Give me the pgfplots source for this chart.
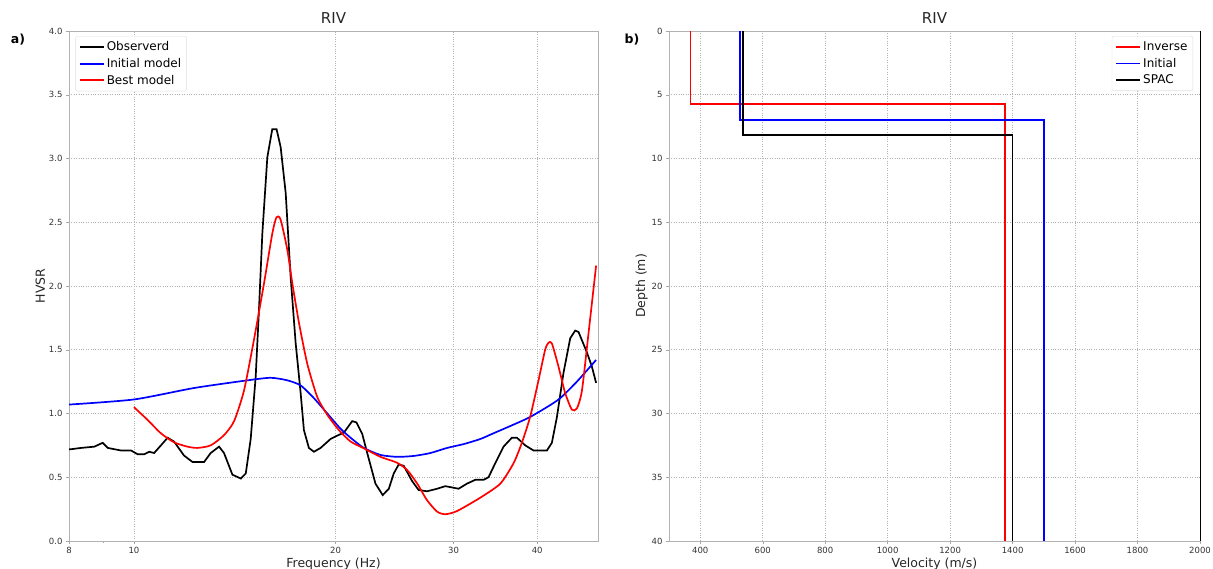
\documentclass[border=0pt]{standalone}
\usepackage{pgfplots}
\pgfplotsset{compat=1.18}
\usepackage{fontspec}
\setmainfont{DejaVu Sans}
\begin{document}
\begin{tikzpicture}
\useasboundingbox (0pt,0pt) rectangle (1213pt,569pt);
\pgfplotsset{
  common/.style={
    scale only axis, height=510pt,
    axis line style={gray!60},
    tick style={gray!70, thin},
    tick align=outside, xtick pos=left, ytick pos=left,
    major tick length=3pt, minor tick length=2pt,
    tick label style={font=\fontsize{8.5}{9}\selectfont, text=black!80},
    label style={font=\fontsize{12.5}{14}\selectfont, text=black!85},
    title style={font=\fontsize{15}{17}\selectfont, text=black!85, yshift=-2pt},
    xmajorgrids, ymajorgrids,
    major grid style={dotted, gray!60, line width=0.6pt},
    /pgf/number format/assume math mode=true,
    /pgf/number format/1000 sep={},
    legend cell align=left,
    legend style={font=\fontsize{12}{14}\selectfont, draw=gray!25, rounded corners=2pt, row sep=2pt, inner sep=3.5pt},
    legend image code/.code={\draw[#1] (0pt,0pt) -- (24pt,0pt);},
  }
}
\begin{axis}[common, at={(69pt,28pt)}, anchor=south west, width=529pt,
  xmode=log, xmin=8, xmax=49.3, ymin=0, ymax=4,
  xtick={8,10,20,30,40}, xticklabels={8,10,20,30,40}, minor xtick={9},
  ytick={0,0.5,...,4},
  yticklabel style={/pgf/number format/.cd, fixed, fixed zerofill, precision=1},
  xlabel={Frequency (Hz)}, ylabel={HVSR}, title={RIV},
  xlabel style={yshift=3pt}, ylabel style={yshift=-3pt},
  legend style={at={(0.012,0.99)}, anchor=north west}]
\addplot[black, line width=1.7pt] coordinates {(8.0,0.72)(8.06,0.72)(8.34,0.73)(8.73,0.74)(8.98,0.77)(9.14,0.73)(9.56,0.71)(9.90,0.71)(10.13,0.68)(10.36,0.68)(10.54,0.70)(10.72,0.69)(11.23,0.81)(11.48,0.78)(11.88,0.67)(12.23,0.62)(12.73,0.62)(13.02,0.69)(13.40,0.74)(13.63,0.69)(14.03,0.52)(14.44,0.49)(14.69,0.53)(14.94,0.80)(15.20,1.29)(15.37,1.81)(15.55,2.41)(15.82,3.01)(16.09,3.23)(16.33,3.23)(16.56,3.09)(16.85,2.73)(17.14,2.07)(17.44,1.55)(17.74,1.16)(17.94,0.87)(18.25,0.73)(18.57,0.70)(19.00,0.73)(19.66,0.80)(20.00,0.82)(20.58,0.85)(21.18,0.94)(21.49,0.93)(21.92,0.84)(22.30,0.69)(22.94,0.45)(23.52,0.36)(24.02,0.41)(24.43,0.53)(24.85,0.60)(25.28,0.59)(26.02,0.47)(26.61,0.40)(27.39,0.39)(28.36,0.41)(29.17,0.43)(30.53,0.41)(31.43,0.45)(32.34,0.48)(33.27,0.48)(33.84,0.50)(34.63,0.61)(35.63,0.74)(36.67,0.81)(37.31,0.81)(38.39,0.75)(39.50,0.71)(41.36,0.71)(42.07,0.77)(42.80,0.97)(43.79,1.32)(44.81,1.59)(45.58,1.65)(46.10,1.64)(47.45,1.48)(48.26,1.37)(48.98,1.24)};
\addlegendentry{Observerd}
\addplot[blue, line width=1.7pt, smooth, tension=0.4] coordinates {(8.0,1.07)(10.0,1.11)(12.3,1.20)(14.77,1.26)(16.0,1.28)(16.95,1.26)(17.74,1.22)(18.57,1.12)(19.44,1.00)(20.35,0.88)(21.06,0.81)(22.04,0.73)(23.34,0.675)(24.71,0.66)(26.17,0.667)(27.71,0.69)(29.35,0.73)(31.07,0.76)(32.90,0.80)(34.43,0.845)(38.62,0.96)(41.36,1.05)(43.29,1.12)(45.85,1.25)(48.98,1.42)};
\addlegendentry{Initial model}
\addplot[red, line width=1.7pt, smooth, tension=0.4] coordinates {(10.0,1.05)(10.48,0.95)(10.97,0.845)(11.48,0.774)(12.02,0.74)(12.44,0.73)(13.02,0.75)(13.63,0.83)(14.11,0.94)(14.6,1.18)(15.11,1.58)(15.64,2.02)(16.09,2.41)(16.33,2.54)(16.56,2.52)(16.95,2.28)(17.24,2.02)(17.64,1.71)(18.15,1.39)(18.78,1.13)(19.44,0.99)(20.23,0.87)(21.06,0.78)(22.04,0.727)(23.34,0.66)(24.71,0.614)(25.58,0.557)(26.48,0.45)(27.39,0.32)(28.36,0.23)(29.17,0.21)(30.37,0.235)(32.90,0.34)(35.24,0.45)(36.88,0.61)(37.95,0.77)(39.05,0.975)(40.18,1.26)(41.11,1.50)(41.59,1.555)(42.07,1.55)(43.03,1.37)(44.04,1.16)(45.07,1.03)(45.85,1.04)(46.65,1.18)(47.72,1.63)(48.98,2.16)};
\addlegendentry{Best model}
\end{axis}
\begin{axis}[common, at={(669pt,28pt)}, anchor=south west, width=531pt,
  xmin=300, xmax=2000, ymin=0, ymax=40, y dir=reverse, clip=false,
  xtick={400,600,...,2000}, ytick={0,5,...,40},
  xlabel={Velocity (m/s)}, ylabel={Depth (m)}, title={RIV},
  xlabel style={yshift=3pt}, ylabel style={yshift=-3pt},
  legend style={at={(0.987,0.99)}, anchor=north east}]
\addplot[red, line width=1.7pt] coordinates {(369,0)(369,5.73)(1375,5.73)(1375,40)};
\addlegendentry{Inverse}
\addplot[blue, line width=1.7pt] coordinates {(527,0)(527,7.0)(1500,7.0)(1500,40)};
\addlegendentry{Initial}
\addplot[black, line width=1.7pt] coordinates {(538,0)(538,8.18)(1400,8.18)(1400,40)};
\addlegendentry{SPAC}
\addplot[black, line width=1pt, forget plot] coordinates {(2000,0)(2000,40)};
\end{axis}
\node[font=\bfseries\fontsize{12.5}{14}\selectfont] at (18pt,529pt) {a)};
\node[font=\bfseries\fontsize{12.5}{14}\selectfont] at (632pt,529pt) {b)};
\end{tikzpicture}
\end{document}
